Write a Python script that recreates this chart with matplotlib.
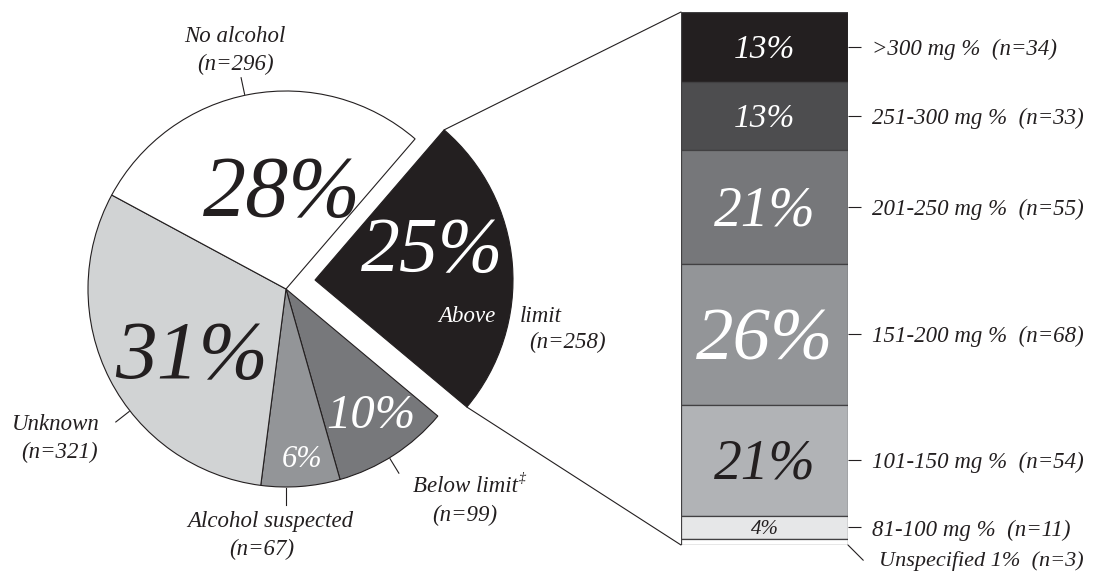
import matplotlib
matplotlib.use('Agg')
import matplotlib.pyplot as plt
from matplotlib.patches import ConnectionPatch
import numpy as np

plt.rcParams['font.family'] = ['Liberation Serif', 'DejaVu Serif']
plt.rcParams['font.style'] = 'italic'

# Alcohol status of all cases (pie, clockwise from the exploded slice)
status = ['Above limit', 'Below limit', 'Alcohol suspected', 'Unknown', 'No alcohol']
status_n = [258, 99, 67, 321, 296]
status_pct = [25, 10, 6, 31, 28]

# Blood alcohol level within the above-limit group (bar, top to bottom)
bac_ranges = ['>300 mg %', '251-300 mg %', '201-250 mg %', '151-200 mg %',
              '101-150 mg %', '81-100 mg %', 'Unspecified']
bac_n = [34, 33, 55, 68, 54, 11, 3]
bac_pct = [13, 13, 21, 26, 21, 4, 1]

INK = '#231f20'
EDGE = '#414042'
pie_colors = [INK, '#77787b', '#939598', '#d1d3d4', '#ffffff']
bar_colors = [INK, '#4d4d4f', '#76777a', '#939598', '#b1b3b6', '#e6e7e8', '#ffffff']

W, H = 1096, 572
fig = plt.figure(figsize=(W / 100, H / 100), dpi=100)

# ---- pie, drawn in a full-figure axes measured in pixels ----
ax = fig.add_axes([0, 0, 1, 1])
cx, cy, R = 286, 283, 198
wedges, _ = ax.pie(status_n, colors=pie_colors, startangle=49.3, counterclock=False,
                   center=(cx, cy), radius=R,
                   wedgeprops=dict(edgecolor=INK, linewidth=0.8))
ax.set_xlim(0, W)
ax.set_ylim(0, H)
ax.axis('off')

# pull the above-limit slice out towards the bar
wedges[0].set_center((cx + 29, cy + 9))

# big percentages inside the slices: (x, y of digit centre, size, colour)
pct_style = [(432, 327, 56, 'white'), (371, 160, 35, 'white'),
             (302, 115, 22, 'white'), (192, 222, 60, INK), (282, 385, 62, INK)]
for p, (x, y, s, c) in zip(status_pct, pct_style):
    ax.text(x, y - 0.46 * s, f'{p}%', ha='center', va='baseline', fontsize=s, color=c)

# outside labels
LBL = 16.5
ax.text(235, 535, 'No alcohol', ha='center', va='center', fontsize=LBL, color=INK)
ax.text(235, 508, f'(n={status_n[4]})', ha='center', va='center', fontsize=LBL, color=INK)
ax.text(56, 147, 'Unknown', ha='center', va='center', fontsize=LBL, color=INK)
ax.text(59, 120, f'(n={status_n[3]})', ha='center', va='center', fontsize=LBL, color=INK)
ax.text(270, 50, 'Alcohol suspected', ha='center', va='center', fontsize=LBL, color=INK)
ax.text(262, 23, f'(n={status_n[2]})', ha='center', va='center', fontsize=LBL, color=INK)
ax.text(518, 85, 'Below limit', ha='right', va='center', fontsize=LBL, color=INK)
ax.text(519, 93, '\u2021', ha='left', va='center', fontsize=10, color=INK)
ax.text(465, 57, f'(n={status_n[1]})', ha='center', va='center', fontsize=LBL, color=INK)
ax.text(467, 256, 'Above', ha='center', va='center', fontsize=LBL, color='white')
ax.text(541, 256, 'limit', ha='center', va='center', fontsize=LBL, color=INK)
ax.text(568, 230, f'(n={status_n[0]})', ha='center', va='center', fontsize=LBL, color=INK)

# short radial leader ticks
for ang in [102, 218, -90, -58.5]:
    a = np.deg2rad(ang)
    ax.plot([cx + 199 * np.cos(a), cx + 216 * np.cos(a)],
            [cy + 199 * np.sin(a), cy + 216 * np.sin(a)], color=INK, lw=0.8)

# ---- stacked bar for the above-limit group ----
bx = fig.add_axes([681 / W, 27 / H, 167 / W, 533 / H])
total = sum(bac_n)
tops = np.cumsum(bac_n[::-1])[::-1]          # top edge of every segment
bottoms = tops - np.array(bac_n)
for n, b, c in zip(bac_n, bottoms, bar_colors):
    bx.bar(0.5, n, width=1, bottom=b, color=c, edgecolor=EDGE, linewidth=0.9)
bx.set_xlim(0, 1)
bx.set_ylim(0, total)
for s in bx.spines.values():
    s.set_visible(False)
bx.set_xticks([])

mids = bottoms + np.array(bac_n) / 2
bar_txt = [(24, 'white'), (24, 'white'), (40, 'white'), (54, 'white'), (40, INK), (15, INK)]
for p, m, (s, c) in zip(bac_pct, mids, bar_txt):
    # shift by half the digit height, converted from pixels to bar units
    off = 0.46 * s * total / 533
    bx.text(0.5, m - off, f'{p}%', ha='center', va='baseline', fontsize=s, color=c)

bx.yaxis.tick_right()
bx.set_yticks(mids[:6])
bx.set_yticklabels([f'{r}  (n={n})' for r, n in zip(bac_ranges[:6], bac_n[:6])],
                   fontsize=16.5, color=INK)
bx.tick_params(axis='y', length=9.5, width=0.8, color=INK, pad=8)

bx.annotate('', xy=(1, 0), xytext=(11, -11), textcoords='offset points',
            annotation_clip=False,
            arrowprops=dict(arrowstyle='-', lw=0.8, color=INK, shrinkA=0, shrinkB=0))
bx.annotate(f'{bac_ranges[6]} {bac_pct[6]}%  (n={bac_n[6]})', xy=(1, 0),
            xytext=(22, -11.5), textcoords='offset points', ha='left', va='center',
            fontsize=16, color=INK, annotation_clip=False)

# ---- connector lines from the pulled-out slice to the bar ----
w = wedges[0]
wx, wy = w.center
for theta, corner in [(w.theta2, (0, 1)), (w.theta1, (0, 0))]:
    t = np.deg2rad(theta)
    con = ConnectionPatch(xyA=(wx + w.r * np.cos(t), wy + w.r * np.sin(t)), coordsA=ax.transData,
                          xyB=corner, coordsB=bx.transAxes, color=INK, lw=0.8)
    fig.add_artist(con)

fig.savefig('out.png', dpi=100)
